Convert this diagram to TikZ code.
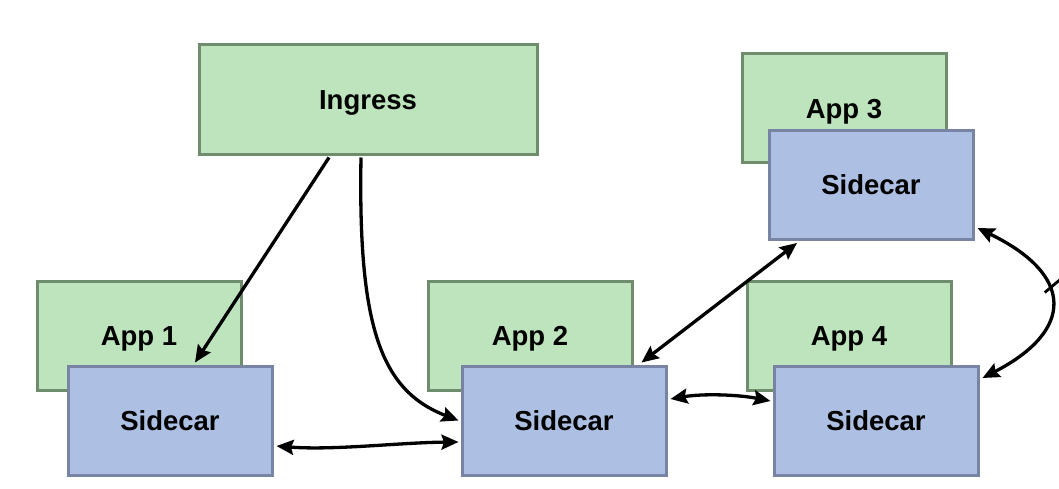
\documentclass[tikz,border=0pt]{standalone}
\usepackage{fontspec}
\setmainfont{Liberation Sans}
\usetikzlibrary{arrows.meta,calc}
\definecolor{appfill}{HTML}{BDE4BC}
\definecolor{appline}{HTML}{6F8D6D}
\definecolor{scfill}{HTML}{ADC0E4}
\definecolor{scline}{HTML}{7884A4}
\begin{document}
\begin{tikzpicture}[x=1pt,y=-1pt,
  boxbase/.style={line width=3pt,minimum width=204pt,minimum height=109pt,inner sep=0pt,text height=19.8pt,text depth=0pt,font=\fontsize{27.5}{30}\selectfont\bfseries},
  appbox/.style={boxbase,draw=appline,fill=appfill},
  scbox/.style={boxbase,draw=scline,fill=scfill},
  conn/.style={line width=3.3pt,black,-{Stealth[length=17pt,width=15pt,inset=2.5pt]}},
  bconn/.style={line width=3.3pt,black,{Stealth[length=17pt,width=15pt,inset=2.5pt]}-{Stealth[length=17pt,width=15pt,inset=2.5pt]}}]
\useasboundingbox (0,0) rectangle (1059,489);
\node[appbox,minimum width=338pt,minimum height=110pt] (ing) at (368,100) {Ingress};
\node[appbox] (app3) at (844,108.5) {App 3};
\node[scbox] (sc3) at (871,185) {Sidecar};
\node[appbox] (app1) at (139,335.5) {App 1};
\node[scbox] (sc1) at (170,420.5) {Sidecar};
\node[appbox] (app2) at (530,335.5) {App 2};
\node[scbox] (sc2) at (564,420.5) {Sidecar};
\node[appbox] (app4) at (849,335.5) {App 4};
\node[scbox] (sc4) at (876,420.5) {Sidecar};
% connectors
\draw[conn] ($(ing.south)+(-39,1)$) -- ($(sc1.north)+(25,-2)$);
\draw[conn] ($(ing.south)+(-7,1)$) .. controls ($(ing.south)+(-10,170)$) and ($(sc2.west)+(-80,-30)$) .. ($(sc2.west)+(-2,0)$);
\draw[bconn] ($(sc1.east)+(3,25.5)$) .. controls ($(sc1.east)+(60,30)$) and ($(sc2.west)+(-60,22)$) .. ($(sc2.west)+(-2,21.5)$);
\draw[bconn] ($(sc2.east)+(3,-21.5)$) .. controls ($(sc2.east)+(35,-27)$) and ($(sc4.west)+(-35,-26)$) .. ($(sc4.west)+(-2,-19.5)$);
\draw[bconn] ($(sc2.north east)+(-26,-2)$) -- ($(sc3.south)+(-74,2)$);
\draw[bconn] ($(sc3.east)+(3,43)$) .. controls ($(sc3.east)+(100,90)$) and ($(sc4.east)+(95,-90)$) .. ($(sc4.east)+(3,-42.5)$) coordinate[pos=0.42] (mid);
\coordinate (off) at (1062,278);
\draw[line width=2.8pt] ($(mid)+(-4,2)$) -- (off);
\end{tikzpicture}
\end{document}
